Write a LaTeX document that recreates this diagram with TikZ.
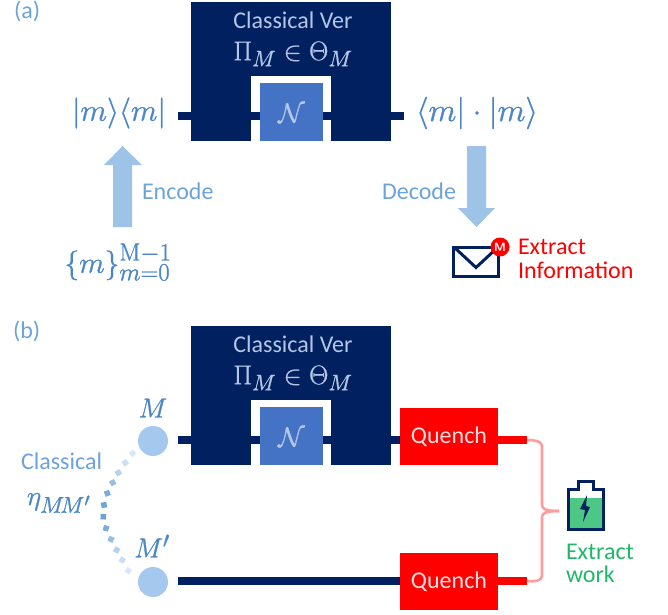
\documentclass[tikz,border=0pt]{standalone}
\usepackage[no-math]{fontspec}
\setmainfont{Carlito}
\definecolor{navy}{HTML}{002060}
\definecolor{midblue}{HTML}{4472C4}
\definecolor{txtblue}{HTML}{6BA3DA}
\definecolor{mathblue}{HTML}{4A86C8}
\definecolor{arrowblue}{HTML}{9DC3E6}
\definecolor{circblue}{HTML}{A4C8EE}
\definecolor{boxtxt}{HTML}{B4C7E7}
\definecolor{pink}{HTML}{FF9C9C}
\definecolor{xgreen}{HTML}{20B868}
\definecolor{batgreen}{HTML}{4CC884}
\newcommand{\inkon}{\special{pdf:code 2 Tr 0.25 w}}
\newcommand{\inkoff}{\special{pdf:code 0 Tr 1 w}}
\newcommand{\mtext}[1]{\inkon#1\inkoff}
\tikzset{
  x=1pt,y=-1pt,
  every node/.style={inner sep=0pt,outer sep=0pt},
  mainbox/.style={fill=navy,minimum width=200pt,minimum height=139pt},
  framebox/.style={fill=white,minimum width=80pt,minimum height=65pt},
  chanbox/.style={fill=midblue,minimum width=63pt,minimum height=58pt},
  chanlabel/.style={text=boxtxt,font=\fontsize{24.88}{26}\selectfont,scale=1.1},
  quenchbox/.style={fill=red,minimum width=98pt,minimum height=57pt,text=white!88!red,font=\fontsize{24}{24}\selectfont},
  wire/.style={draw=navy,line width=8pt},
  redwire/.style={draw=red,line width=7.5pt},
  bigarrow/.style={fill=arrowblue},
  bracepath/.style={draw=pink,line width=2.6pt,line join=round},
  boxlabel/.style={text=boxtxt,font=\fontsize{24}{26}\selectfont},
  boxmath/.style={text=boxtxt,font=\fontsize{24.88}{26}\selectfont,scale=1.08},
  tag/.style={text=txtblue,font=\fontsize{24}{26}\selectfont},
  mathtxt/.style={text=mathblue,font=\fontsize{24.88}{26}\selectfont},
  party/.style={circle,fill=circblue,minimum size=30pt},
  redtxt/.style={text=red,align=left,font=\fontsize{24}{24}\selectfont},
  greentxt/.style={text=xgreen,align=left,font=\fontsize{24}{23.5}\selectfont},
  corrdot/.style={minimum size=5.5pt}
}
\begin{document}
\begin{tikzpicture}
\useasboundingbox (0,0) rectangle (668,614);
% ---------- panel a
\node[tag,anchor=west] (la) at (14,11) {(a)};
\node[mainbox] (boxa) at (291,71.5) {};
\node[framebox] (framea) at (291,108.5) {};
\coordinate (wa1) at (178,116);
\coordinate (wa2) at (404,116);
\draw[wire] (wa1) -- (wa2);
\node[chanbox] (chana) at (291.5,112) {};
\node[chanlabel] (na) at (291.5,113) {\mtext{$\mathcal{N}$}};
\node[boxlabel] (ta) at (293,20.5) {Classical Ver};
\node[boxmath] (pia) at (293,54) {\mtext{$\Pi_M\in\Theta_M$}};
\node[mathtxt,scale=1.24] (ket) at (119,113) {\mtext{$|m\rangle\langle m|$}};
\node[mathtxt,scale=1.3] (bra) at (477,113) {\mtext{$\langle m|\cdot|m\rangle$}};
\fill[bigarrow] (113,227) -- (132,227) -- (132,165) -- (142,165) -- (122.5,146) -- (104,165) -- (113,165) -- cycle;
\fill[bigarrow] (467,146) -- (486,146) -- (486,208) -- (495,208) -- (476.5,227) -- (458,208) -- (467,208) -- cycle;
\node[tag,anchor=west] (enc) at (142,191) {Encode};
\node[tag,anchor=east] (dec) at (456,191) {Decode};
\node[mathtxt,scale=1.19] (set) at (118,262) {\mtext{$\{m\}_{m=0}^{\mathrm{M}-1}$}};
% envelope
\draw[navy,line width=3pt,line join=miter] (453.5,247.5) rectangle (498,276);
\draw[navy,line width=3pt] (455,248) -- (476,267.5) -- (497,248);
\node[circle,fill=red,minimum size=19pt,text=white,font=\fontsize{12}{12}\sffamily\bfseries] (badge) at (500,247) {M};
\node[redtxt,anchor=west] (extinfo) at (518,259) {Extract\\Information};
% ---------- panel b
\node[tag,anchor=west] (lb) at (13,331) {(b)};
\node[mainbox] (boxb) at (291,395.5) {};
\node[framebox] (frameb) at (291,432.5) {};
\node[party] (m1) at (153,441) {};
\node[party] (m2) at (153,582) {};
\node[quenchbox] (q1) at (449,436.5) {Quench};
\node[quenchbox] (q2) at (449,581.5) {Quench};
\coordinate (wb1) at (178,440);
\draw[wire] (wb1) -- (q1.west |- wb1);
\coordinate (wb2) at (178,581);
\draw[wire] (wb2) -- (q2.west |- wb2);
\node[chanbox] (chanb) at (291.5,436) {};
\node[chanlabel] (nb) at (291.5,437) {\mtext{$\mathcal{N}$}};
\node[boxlabel] (tb) at (293,344.5) {Classical Ver};
\node[boxmath] (pib) at (293,378) {\mtext{$\Pi_M\in\Theta_M$}};
\coordinate (r1) at (527,440);
\coordinate (r2) at (527,581);
\draw[redwire] (q1.east |- r1) -- (r1);
\draw[redwire] (q2.east |- r2) -- (r2);
\coordinate (tip) at (559,511);
\draw[bracepath] (r1) .. controls (534,440) and (542,441) .. (542,446) -- (542,505) .. controls (542,509) and (546,511) .. (tip);
\draw[bracepath] (r2) .. controls (534,582) and (542,581) .. (542,576) -- (542,517) .. controls (542,513) and (546,511) .. (tip);
\node[mathtxt,scale=1.1] (lm1) at (153,408) {\mtext{$M$}};
\node[mathtxt,scale=1.1] (lm2) at (152,546) {\mtext{$M'$}};
\node[tag,anchor=west] (cl) at (21,461) {Classical};
\node[mathtxt,anchor=west,scale=1.1] (eta) at (27,503) {\mtext{$\eta_{M\!M'}$}};
% correlation dots, fading towards both ends
\foreach \px/\py/\ang/\op in {
  132.7/453.3/-48/25, 125.3/462.7/-52/35, 118.3/472.7/-56/50, 112.7/482.7/-62/70,
  107.3/493.3/-70/90, 104/505/-80/110, 103.3/516.7/-92/110, 106/528.3/-105/90,
  111/539.3/-115/70, 116.7/550/-120/50, 122.3/560/-122/35, 128.3/570.7/-125/25}
  \node[corrdot,fill=txtblue!\ifnum\op>100 100\else\op\fi!white,rotate=\ang] at (\px,\py) {};
% battery
\draw[navy,line width=3pt,fill=white,line join=miter]
  (568.5,529) -- (568.5,489.5) -- (578.5,489.5) -- (578.5,481.5) -- (593,481.5) -- (593,489.5) -- (603,489.5) -- (603,529) -- cycle;
\fill[batgreen] (570,498) rectangle (601.5,527.5);
\fill[navy] (587,495) -- (580,509) -- (585,510) -- (583,522) -- (590,507) -- (586,506) -- cycle;
\node[greentxt,anchor=west] (extw) at (566,563.5) {Extract\\work};
\end{tikzpicture}
\end{document}
